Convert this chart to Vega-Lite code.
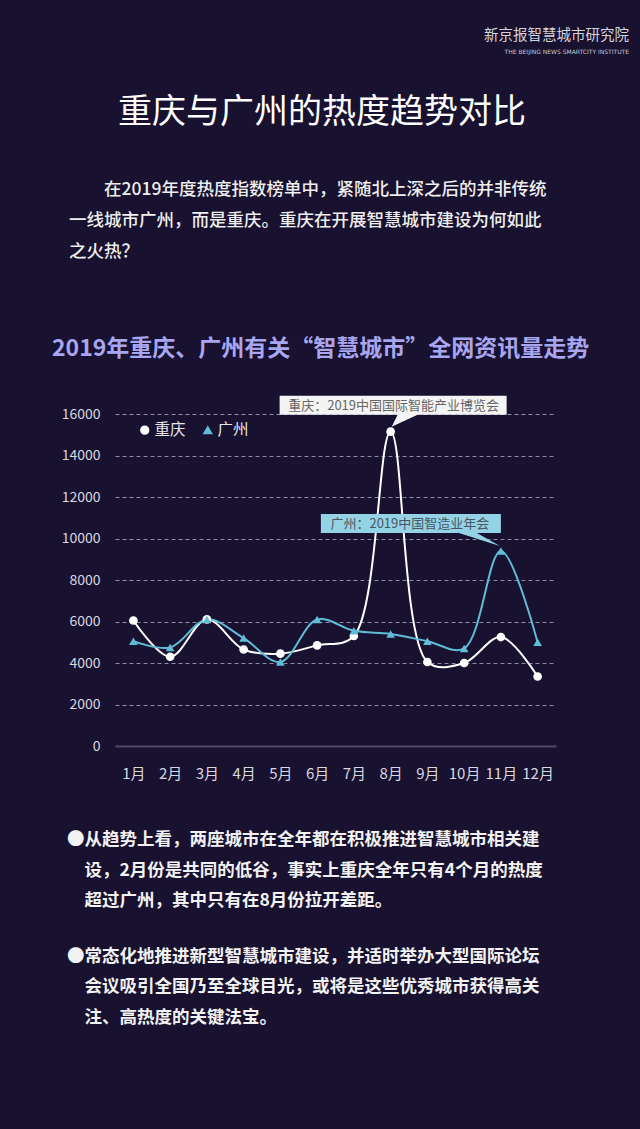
{
  "$schema": "https://vega.github.io/schema/vega-lite/v6.json",
  "background": "#18112f",
  "padding": {"left": 52, "top": 27, "right": 20, "bottom": 110},
  "bounds": "flush",
  "spacing": 0,
  "resolve": {"legend": {"color": "independent", "shape": "independent"}, "scale": {"color": "independent", "shape": "independent"}},
  "config": {
    "view": {"stroke": null},
    "font": "Noto Sans CJK SC",
    "title": {"offset": 0, "font": "Noto Sans CJK SC", "subtitleFont": "Noto Sans CJK SC", "frame": "group"}
  },
  "datasets": {
    "series": [
      {"month": "1月", "city": "重庆", "value": 6050},
      {"month": "2月", "city": "重庆", "value": 4300},
      {"month": "3月", "city": "重庆", "value": 6100},
      {"month": "4月", "city": "重庆", "value": 4650},
      {"month": "5月", "city": "重庆", "value": 4450},
      {"month": "6月", "city": "重庆", "value": 4850},
      {"month": "7月", "city": "重庆", "value": 5300},
      {"month": "8月", "city": "重庆", "value": 15150},
      {"month": "9月", "city": "重庆", "value": 4050},
      {"month": "10月", "city": "重庆", "value": 4000},
      {"month": "11月", "city": "重庆", "value": 5250},
      {"month": "12月", "city": "重庆", "value": 3350},
      {"month": "1月", "city": "广州", "value": 5050},
      {"month": "2月", "city": "广州", "value": 4750},
      {"month": "3月", "city": "广州", "value": 6100},
      {"month": "4月", "city": "广州", "value": 5200},
      {"month": "5月", "city": "广州", "value": 4050},
      {"month": "6月", "city": "广州", "value": 6100},
      {"month": "7月", "city": "广州", "value": 5550},
      {"month": "8月", "city": "广州", "value": 5400},
      {"month": "9月", "city": "广州", "value": 5050},
      {"month": "10月", "city": "广州", "value": 4700},
      {"month": "11月", "city": "广州", "value": 9400},
      {"month": "12月", "city": "广州", "value": 5000}
    ],
    "notes": [
      {"month": "8月", "city": "重庆", "value": 15150, "label": "重庆：2019中国国际智能产业博览会"},
      {"month": "11月", "city": "广州", "value": 9400, "label": "广州：2019中国智造业年会"}
    ]
  },
  "vconcat": [
    {
      "width": 441, "height": 73.5,
      "data": {"values": []},
      "mark": "text",
      "title": {
        "text": "新京报智慧城市研究院",
        "subtitle": "THE BEIJING NEWS SMARTCITY INSTITUTE",
        "anchor": "end", "dx": 73, "offset": 0,
        "fontSize": 14.5, "fontWeight": "normal", "color": "#d4d4dc",
        "subtitleFont": "DejaVu Sans", "subtitleFontSize": 6, "subtitleColor": "#c8c8d0", "subtitlePadding": 6
      }
    },
    {
      "width": 441, "height": 129.6,
      "data": {"values": []},
      "mark": "text",
      "title": {
        "text": "重庆与广州的热度趋势对比",
        "anchor": "start", "dx": 3, "offset": 0,
        "fontSize": 34, "fontWeight": "normal", "color": "#ffffff"
      }
    },
    {
      "width": 441, "height": 153.4,
      "data": {"values": []},
      "mark": "text",
      "title": {
        "text": ["\u200b　　在2019年度热度指数榜单中，紧随北上深之后的并非传统", "一线城市广州，而是重庆。重庆在开展智慧城市建设为何如此", "之火热？"],
        "anchor": "start", "dx": -46, "offset": 0,
        "fontSize": 17.5, "lineHeight": 31, "fontWeight": 500, "color": "#eeeeee"
      }
    },
    {
      "width": 441, "height": 332,
      "title": {
        "text": "2019年重庆、广州有关“智慧城市”全网资讯量走势",
        "anchor": "start", "dx": -63, "offset": 35,
        "fontSize": 23, "fontWeight": "bold", "color": "#a8a6f0"
      },
      "encoding": {
        "x": {
          "field": "month", "type": "ordinal", "sort": null,
          "scale": {"type": "point", "padding": 0.5, "domain": ["1月", "2月", "3月", "4月", "5月", "6月", "7月", "8月", "9月", "10月", "11月", "12月"]},
          "axis": {"labelAngle": 0, "ticks": false, "tickSize": 0, "domain": true, "domainColor": "#4f4a64", "domainWidth": 2, "labelFontSize": 15, "labelColor": "#d8d8e0", "labelPadding": 20, "title": null, "grid": false}
        },
        "y": {
          "field": "value", "type": "quantitative",
          "scale": {"domain": [0, 16000], "nice": false},
          "axis": {
            "values": [0, 2000, 4000, 6000, 8000, 10000, 12000, 14000, 16000],
            "format": "d",
            "grid": true, "gridDash": [4, 3],
            "gridColor": {"condition": {"test": "datum.value === 0", "value": "#4f4a64"}, "value": "#8f8ba3"},
            "domain": false, "ticks": false, "tickSize": 0, "labelPadding": 15, "labelFontSize": 14, "labelColor": "#d8d8e0", "title": null
          }
        }
      },
      "layer": [
        {
          "data": {"name": "series"},
          "mark": {"type": "line", "interpolate": "catmull-rom", "strokeWidth": 2},
          "encoding": {
            "color": {"field": "city", "type": "nominal", "scale": {"domain": ["重庆", "广州"], "range": ["#ffffff", "#5fbdd8"]},
              "legend": {"title": null, "orient": "none", "legendX": 22, "legendY": 8, "direction": "horizontal", "labelFontSize": 15.5, "labelColor": "#e6e6ee", "labelOffset": 2, "columnPadding": 14, "symbolSize": 60, "padding": 0}}
          }
        },
        {
          "data": {"name": "series"},
          "mark": {"type": "point", "filled": true, "opacity": 1, "size": 75},
          "encoding": {
            "color": {"field": "city", "type": "nominal", "scale": {"domain": ["重庆", "广州"], "range": ["#ffffff", "#5fbdd8"]},
              "legend": {"title": null, "orient": "none", "legendX": 22, "legendY": 8, "direction": "horizontal", "labelFontSize": 15.5, "labelColor": "#e6e6ee", "labelOffset": 2, "columnPadding": 14, "symbolSize": 60, "padding": 0}},
            "shape": {"field": "city", "type": "nominal", "scale": {"domain": ["重庆", "广州"], "range": ["circle", "triangle-up"]},
              "legend": {"title": null, "orient": "none", "legendX": 22, "legendY": 8, "direction": "horizontal", "labelFontSize": 15.5, "labelColor": "#e6e6ee", "labelOffset": 2, "columnPadding": 14, "symbolSize": 60, "padding": 0}}
          }
        },
        {
          "data": {"name": "notes"},
          "transform": [{"filter": "datum.city === '重庆'"}],
          "mark": {"type": "point", "filled": true, "opacity": 1, "size": 4, "color": "#f4f4f4", "shape": "M-111,-36H116V-17H27L1,-5L7,-17H-111Z"}
        },
        {
          "data": {"name": "notes"},
          "transform": [{"filter": "datum.city === '广州'"}],
          "mark": {"type": "point", "filled": true, "opacity": 1, "size": 4, "color": "#94d3e6", "shape": "M-180,-37H0V-18H-24L-1,-5L-42,-18H-180Z"}
        },
        {
          "data": {"name": "notes"},
          "transform": [{"filter": "datum.city === '重庆'"}],
          "mark": {"type": "text", "fontSize": 13, "color": "#666666", "align": "center", "baseline": "middle", "dx": 3, "dy": -26},
          "encoding": {"text": {"field": "label"}}
        },
        {
          "data": {"name": "notes"},
          "transform": [{"filter": "datum.city === '广州'"}],
          "mark": {"type": "text", "fontSize": 13, "color": "#4a5560", "align": "center", "baseline": "middle", "dx": -91, "dy": -27},
          "encoding": {"text": {"field": "label"}}
        }
      ]
    },
    {
      "width": 441, "height": 85,
      "data": {"values": []},
      "mark": "text",
      "title": {
        "orient": "bottom",
        "text": ["●从趋势上看，两座城市在全年都在积极推进智慧城市相关建", "\u200b　设，2月份是共同的低谷，事实上重庆全年只有4个月的热度", "\u200b　超过广州，其中只有在8月份拉开差距。"],
        "subtitle": ["●常态化地推进新型智慧城市建设，并适时举办大型国际论坛", "\u200b　会议吸引全国乃至全球目光，或将是这些优秀城市获得高关", "\u200b　注、高热度的关键法宝。"],
        "anchor": "start", "dx": -48, "offset": 0,
        "fontSize": 17.5, "lineHeight": 30.5, "fontWeight": "bold", "color": "#f2f2f2",
        "subtitleFontSize": 17.5, "subtitleLineHeight": 30.5, "subtitleFontWeight": "bold", "subtitleColor": "#f2f2f2", "subtitlePadding": 38
      }
    }
  ]
}
